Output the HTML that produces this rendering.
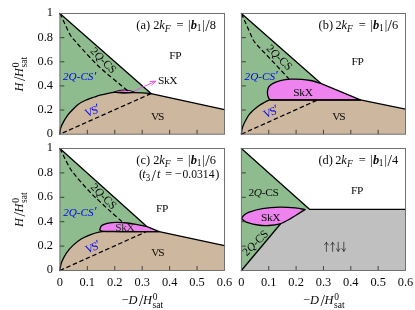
<!DOCTYPE html><html><head><meta charset="utf-8"><style>
html,body{margin:0;padding:0;background:#fff;}body{width:415px;height:310px;overflow:hidden;font-family:"Liberation Serif",serif;}
svg{display:block;position:absolute;left:0;top:0;will-change:transform}
.fr{fill:none;stroke:#6a6a6a;stroke-width:0.95}.tk{stroke:#2a2a2a;stroke-width:0.85}.ln{stroke:#000;stroke-width:1.3;stroke-linejoin:round;stroke-linecap:round}.ln2{stroke:#000;stroke-width:1.3;stroke-linejoin:round}path.ln:not([fill]){fill:none}.ds{fill:none;stroke:#000;stroke-width:1.25;stroke-dasharray:4.5 2.6}
text{font-family:"Liberation Serif",serif;fill:#0a0a0a}.t{font-size:12.4px}.l{font-size:11.4px;letter-spacing:-0.35px}.r{font-size:11.4px;letter-spacing:-0.1px}.b{fill:#0000f0}.i{font-style:italic}.bi{font-style:italic;font-weight:bold}.s{font-size:9.5px}
</style></head><body>
<svg width="415" height="310" viewBox="0 0 415 310">
<rect width="415" height="310" fill="#fff"/>
<polygon points="59.90,13.50 151.00,93.60 59.90,134.20" fill="#8fbc8f"/><path d="M59.90 134.20 C60.02 133.20 59.98 130.30 60.60 128.20 C61.22 126.10 62.43 123.75 63.60 121.60 C64.77 119.45 66.32 117.07 67.60 115.30 C68.88 113.53 69.45 112.88 71.30 111.00 C73.15 109.12 76.15 105.87 78.70 104.00 C81.25 102.13 83.97 100.97 86.60 99.80 C89.23 98.63 92.27 97.77 94.50 97.00 C96.73 96.23 97.75 95.82 100.00 95.20 C102.25 94.58 105.67 93.77 108.00 93.30 C110.33 92.83 111.17 92.52 114.00 92.40 C116.83 92.28 121.67 92.57 125.00 92.60 C128.33 92.63 131.05 92.55 134.00 92.60 C136.95 92.65 139.87 92.73 142.70 92.90 C145.53 93.07 149.62 93.48 151.00 93.60 L224.50 109.60 L224.50 134.20 Z" fill="#cdb79e"/><path d="M113.5 92.2 Q124 87.6 135 92.3 Q124 94.2 113.5 92.2Z" fill="#ee82ee" stroke="#000" stroke-width="0.9"/><path d="M59.90 134.20 C60.02 133.20 59.98 130.30 60.60 128.20 C61.22 126.10 62.43 123.75 63.60 121.60 C64.77 119.45 66.32 117.07 67.60 115.30 C68.88 113.53 69.45 112.88 71.30 111.00 C73.15 109.12 76.15 105.87 78.70 104.00 C81.25 102.13 83.97 100.97 86.60 99.80 C89.23 98.63 92.27 97.77 94.50 97.00 C96.73 96.23 97.75 95.82 100.00 95.20 C102.25 94.58 105.67 93.77 108.00 93.30 C110.33 92.83 111.17 92.52 114.00 92.40 C116.83 92.28 121.67 92.57 125.00 92.60 C128.33 92.63 131.05 92.55 134.00 92.60 C136.95 92.65 139.87 92.73 142.70 92.90 C145.53 93.07 149.62 93.48 151.00 93.60 L224.50 109.60 " class="ln"/><path d="M59.90 13.50 L151.00 93.60 " class="ln"/><path d="M59.90 13.50 C60.77 15.32 63.35 20.77 65.10 24.40 C66.85 28.03 68.67 32.45 70.40 35.30 C72.13 38.15 73.57 39.25 75.50 41.50 C77.43 43.75 79.42 45.97 82.00 48.80 C84.58 51.63 88.00 55.37 91.00 58.50 C94.00 61.63 96.83 64.65 100.00 67.60 C103.17 70.55 106.67 73.40 110.00 76.20 C113.33 79.00 117.03 81.97 120.00 84.40 C122.97 86.83 126.50 89.73 127.80 90.80 " class="ds"/><path d="M151.00 93.60 L59.90 134.20 " class="ds"/><path d="M134 91 L155.6 81.2 M149.5 81.6 L155.9 81.1 L151.3 85.5" stroke="#f545f5" stroke-width="0.9" fill="none"/>
<polygon points="241.40,13.50 320.70,83.30 300.00,100.00 241.40,134.20" fill="#8fbc8f"/><path d="M241.40 134.20 C241.48 133.47 241.62 131.20 241.90 129.80 C242.18 128.40 242.55 127.22 243.10 125.80 C243.65 124.38 244.10 123.30 245.20 121.30 C246.30 119.30 247.53 116.32 249.70 113.80 C251.87 111.28 255.70 108.13 258.20 106.20 C260.70 104.27 262.87 103.23 264.70 102.20 C266.53 101.17 268.45 100.37 269.20 100.00 L360.40 99.90 L405.50 109.20 L405.50 134.20 Z" fill="#cdb79e"/><path d="M267.40 92.30 C267.60 91.43 267.67 88.58 268.60 87.10 C269.53 85.62 271.03 84.48 273.00 83.40 C274.97 82.32 277.42 81.30 280.40 80.60 C283.38 79.90 287.32 79.42 290.90 79.20 C294.48 78.98 298.62 79.08 301.90 79.30 C305.18 79.52 307.47 79.83 310.60 80.50 C313.73 81.17 319.02 82.83 320.70 83.30 L360.40 99.90 L272.00 99.90 C272.00 99.80 270.27 99.95 269.50 99.30 C268.73 98.65 268.25 97.17 267.90 96.00 C267.55 94.83 267.48 92.92 267.40 92.30 Z" fill="#ee82ee" class="ln2"/><path d="M241.40 134.20 C241.48 133.47 241.62 131.20 241.90 129.80 C242.18 128.40 242.55 127.22 243.10 125.80 C243.65 124.38 244.10 123.30 245.20 121.30 C246.30 119.30 247.53 116.32 249.70 113.80 C251.87 111.28 255.70 108.13 258.20 106.20 C260.70 104.27 262.87 103.23 264.70 102.20 C266.53 101.17 268.45 100.37 269.20 100.00 L360.40 99.90 L405.50 109.20 " class="ln"/><path d="M241.40 13.50 L320.70 83.30 " class="ln"/><path d="M241.40 13.50 C241.88 14.58 243.30 17.75 244.30 20.00 C245.30 22.25 246.37 24.67 247.40 27.00 C248.43 29.33 249.48 31.75 250.50 34.00 C251.52 36.25 252.25 38.50 253.50 40.50 C254.75 42.50 256.25 44.03 258.00 46.00 C259.75 47.97 261.67 49.85 264.00 52.30 C266.33 54.75 269.33 57.88 272.00 60.70 C274.67 63.52 277.17 66.15 280.00 69.20 C282.83 72.25 287.50 77.37 289.00 79.00 " class="ds"/><path d="M241.40 134.20 L317.50 100.00 " class="ds"/>
<polygon points="59.90,148.50 146.50,226.30 140.00,235.00 59.90,270.50" fill="#8fbc8f"/><path d="M59.90 270.50 C60.02 269.75 60.27 267.48 60.60 266.00 C60.93 264.52 60.92 263.78 61.90 261.60 C62.88 259.42 64.65 255.60 66.50 252.90 C68.35 250.20 70.50 247.75 73.00 245.40 C75.50 243.05 78.65 240.57 81.50 238.80 C84.35 237.03 87.20 235.92 90.10 234.80 C93.00 233.68 96.25 232.67 98.90 232.10 C101.55 231.53 102.35 231.48 106.00 231.40 C109.65 231.32 114.30 231.57 120.80 231.60 C127.30 231.63 138.60 231.60 145.00 231.60 C151.40 231.60 156.83 231.60 159.20 231.60 L224.50 245.60 L224.50 270.50 Z" fill="#cdb79e"/><path d="M99.60 229.80 C99.97 229.10 100.53 226.68 101.80 225.60 C103.07 224.52 104.75 223.85 107.20 223.30 C109.65 222.75 113.13 222.35 116.50 222.30 C119.87 222.25 123.75 222.58 127.40 223.00 C131.05 223.42 135.22 224.25 138.40 224.80 C141.58 225.35 145.15 226.05 146.50 226.30 L159.20 231.60 L110.00 231.60 Q101 231.6 99.60 229.80Z" fill="#ee82ee" class="ln2"/><path d="M59.90 270.50 C60.02 269.75 60.27 267.48 60.60 266.00 C60.93 264.52 60.92 263.78 61.90 261.60 C62.88 259.42 64.65 255.60 66.50 252.90 C68.35 250.20 70.50 247.75 73.00 245.40 C75.50 243.05 78.65 240.57 81.50 238.80 C84.35 237.03 87.20 235.92 90.10 234.80 C93.00 233.68 96.25 232.67 98.90 232.10 C101.55 231.53 102.35 231.48 106.00 231.40 C109.65 231.32 114.30 231.57 120.80 231.60 C127.30 231.63 138.60 231.60 145.00 231.60 C151.40 231.60 156.83 231.60 159.20 231.60 L224.50 245.60 " class="ln"/><path d="M59.90 148.50 L146.50 226.30 " class="ln"/><path d="M59.90 148.50 C60.37 149.42 61.78 152.17 62.70 154.00 C63.62 155.83 64.10 157.00 65.40 159.50 C66.70 162.00 68.73 166.22 70.50 169.00 C72.27 171.78 73.75 173.45 76.00 176.20 C78.25 178.95 81.33 182.50 84.00 185.50 C86.67 188.50 89.48 191.63 92.00 194.20 C94.52 196.77 96.10 198.10 99.10 200.90 C102.10 203.70 106.17 207.53 110.00 211.00 C113.83 214.47 120.08 219.92 122.10 221.70 " class="ds"/><path d="M59.90 270.50 L146.00 231.80 " class="ds"/>
<polygon points="241.40,148.50 309.50,209.30 280.80,223.50 241.40,270.50" fill="#8fbc8f"/><path d="M241.40 270.50 L280.80 223.50 L290.90 218.40 L299.70 212.90 L305.10 209.60 L309.50 209.30 L405.50 209.30 L405.50 270.50 Z" fill="#c0c0c0"/><path d="M241.40 270.50 L280.80 223.50 " class="ln"/><path d="M241.40 148.50 L309.50 209.30 L405.50 209.30 " class="ln"/><path d="M241.50 218.40 C241.92 217.87 242.72 216.23 244.00 215.20 C245.28 214.17 246.15 213.28 249.20 212.20 C252.25 211.12 257.18 209.55 262.30 208.70 C267.42 207.85 274.40 207.23 279.90 207.10 C285.40 206.97 291.10 207.48 295.30 207.90 C299.50 208.32 303.47 209.32 305.10 209.60 C304.20 210.15 302.07 211.43 299.70 212.90 C297.33 214.37 294.20 216.57 290.90 218.40 C287.60 220.23 283.57 222.72 279.90 223.90 C276.23 225.08 272.55 225.32 268.90 225.50 C265.25 225.68 261.65 225.53 258.00 225.00 C254.35 224.47 249.42 223.07 247.00 222.30 C244.58 221.53 244.42 221.05 243.50 220.40 C242.58 219.75 241.83 218.73 241.50 218.40 Z" fill="#ee82ee" class="ln"/>
<line x1="87.33" y1="134.20" x2="87.33" y2="129.80" class="tk"/><line x1="114.77" y1="134.20" x2="114.77" y2="129.80" class="tk"/><line x1="142.20" y1="134.20" x2="142.20" y2="129.80" class="tk"/><line x1="169.63" y1="134.20" x2="169.63" y2="129.80" class="tk"/><line x1="197.07" y1="134.20" x2="197.07" y2="129.80" class="tk"/><line x1="59.90" y1="110.06" x2="64.30" y2="110.06" class="tk"/><line x1="59.90" y1="85.92" x2="64.30" y2="85.92" class="tk"/><line x1="59.90" y1="61.78" x2="64.30" y2="61.78" class="tk"/><line x1="59.90" y1="37.64" x2="64.30" y2="37.64" class="tk"/><rect x="59.90" y="13.50" width="164.60" height="120.70" class="fr"/>
<line x1="268.75" y1="134.20" x2="268.75" y2="129.80" class="tk"/><line x1="296.10" y1="134.20" x2="296.10" y2="129.80" class="tk"/><line x1="323.45" y1="134.20" x2="323.45" y2="129.80" class="tk"/><line x1="350.80" y1="134.20" x2="350.80" y2="129.80" class="tk"/><line x1="378.15" y1="134.20" x2="378.15" y2="129.80" class="tk"/><line x1="241.40" y1="110.06" x2="245.80" y2="110.06" class="tk"/><line x1="241.40" y1="85.92" x2="245.80" y2="85.92" class="tk"/><line x1="241.40" y1="61.78" x2="245.80" y2="61.78" class="tk"/><line x1="241.40" y1="37.64" x2="245.80" y2="37.64" class="tk"/><rect x="241.40" y="13.50" width="164.10" height="120.70" class="fr"/>
<line x1="87.33" y1="270.50" x2="87.33" y2="266.10" class="tk"/><line x1="114.77" y1="270.50" x2="114.77" y2="266.10" class="tk"/><line x1="142.20" y1="270.50" x2="142.20" y2="266.10" class="tk"/><line x1="169.63" y1="270.50" x2="169.63" y2="266.10" class="tk"/><line x1="197.07" y1="270.50" x2="197.07" y2="266.10" class="tk"/><line x1="59.90" y1="246.10" x2="64.30" y2="246.10" class="tk"/><line x1="59.90" y1="221.70" x2="64.30" y2="221.70" class="tk"/><line x1="59.90" y1="197.30" x2="64.30" y2="197.30" class="tk"/><line x1="59.90" y1="172.90" x2="64.30" y2="172.90" class="tk"/><rect x="59.90" y="148.50" width="164.60" height="122.00" class="fr"/>
<line x1="268.75" y1="270.50" x2="268.75" y2="266.10" class="tk"/><line x1="296.10" y1="270.50" x2="296.10" y2="266.10" class="tk"/><line x1="323.45" y1="270.50" x2="323.45" y2="266.10" class="tk"/><line x1="350.80" y1="270.50" x2="350.80" y2="266.10" class="tk"/><line x1="378.15" y1="270.50" x2="378.15" y2="266.10" class="tk"/><line x1="241.40" y1="246.10" x2="245.80" y2="246.10" class="tk"/><line x1="241.40" y1="221.70" x2="245.80" y2="221.70" class="tk"/><line x1="241.40" y1="197.30" x2="245.80" y2="197.30" class="tk"/><line x1="241.40" y1="172.90" x2="245.80" y2="172.90" class="tk"/><rect x="241.40" y="148.50" width="164.10" height="122.00" class="fr"/>
<text x="53.0" y="137.10" text-anchor="end" class="t">0</text>
<text x="53.0" y="112.96" text-anchor="end" class="t">0.2</text>
<text x="53.0" y="88.82" text-anchor="end" class="t">0.4</text>
<text x="53.0" y="64.68" text-anchor="end" class="t">0.6</text>
<text x="53.0" y="40.54" text-anchor="end" class="t">0.8</text>
<text x="53.0" y="15.90" text-anchor="end" class="t">1</text>
<text x="53.0" y="273.40" text-anchor="end" class="t">0</text>
<text x="53.0" y="249.00" text-anchor="end" class="t">0.2</text>
<text x="53.0" y="224.60" text-anchor="end" class="t">0.4</text>
<text x="53.0" y="200.20" text-anchor="end" class="t">0.6</text>
<text x="53.0" y="175.80" text-anchor="end" class="t">0.8</text>
<text x="53.0" y="151.40" text-anchor="end" class="t">1</text>
<text x="59.90" y="285.8" text-anchor="middle" class="t">0</text>
<text x="87.33" y="285.8" text-anchor="middle" class="t">0.1</text>
<text x="114.77" y="285.8" text-anchor="middle" class="t">0.2</text>
<text x="142.20" y="285.8" text-anchor="middle" class="t">0.3</text>
<text x="169.63" y="285.8" text-anchor="middle" class="t">0.4</text>
<text x="197.07" y="285.8" text-anchor="middle" class="t">0.5</text>
<text x="224.50" y="285.8" text-anchor="middle" class="t">0.6</text>
<text x="241.40" y="285.8" text-anchor="middle" class="t">0</text>
<text x="268.75" y="285.8" text-anchor="middle" class="t">0.1</text>
<text x="296.10" y="285.8" text-anchor="middle" class="t">0.2</text>
<text x="323.45" y="285.8" text-anchor="middle" class="t">0.3</text>
<text x="350.80" y="285.8" text-anchor="middle" class="t">0.4</text>
<text x="378.15" y="285.8" text-anchor="middle" class="t">0.5</text>
<text x="405.50" y="285.8" text-anchor="middle" class="t">0.6</text>
<g transform="translate(136.30 28.60)" class="t"><text x="0" y="0">(a)</text><text x="16.84" y="0">2</text><text x="22.9" y="0" class="i">k</text><text x="28.5" y="2.9" class="i s">F</text><text x="40.26" y="0">=</text><text x="51.81" y="0">|</text><text x="54.49" y="0" class="bi">b</text><text x="60.35" y="2.5" class="s">1</text><text x="66.05" y="0">|</text><text x="69.0" y="2.3" style="font-size:16px">/</text><text x="73.52" y="0">8</text></g>
<g transform="translate(318.60 28.60)" class="t"><text x="0" y="0">(b)</text><text x="16.84" y="0">2</text><text x="22.9" y="0" class="i">k</text><text x="28.5" y="2.9" class="i s">F</text><text x="40.26" y="0">=</text><text x="51.81" y="0">|</text><text x="54.49" y="0" class="bi">b</text><text x="60.35" y="2.5" class="s">1</text><text x="66.05" y="0">|</text><text x="69.0" y="2.3" style="font-size:16px">/</text><text x="73.52" y="0">6</text></g>
<g transform="translate(136.30 163.70)" class="t"><text x="0" y="0">(c)</text><text x="16.84" y="0">2</text><text x="22.9" y="0" class="i">k</text><text x="28.5" y="2.9" class="i s">F</text><text x="40.26" y="0">=</text><text x="51.81" y="0">|</text><text x="54.49" y="0" class="bi">b</text><text x="60.35" y="2.5" class="s">1</text><text x="66.05" y="0">|</text><text x="69.0" y="2.3" style="font-size:16px">/</text><text x="73.52" y="0">6</text></g>
<g transform="translate(318.40 163.80)" class="t"><text x="0" y="0">(d)</text><text x="16.84" y="0">2</text><text x="22.9" y="0" class="i">k</text><text x="28.5" y="2.9" class="i s">F</text><text x="40.26" y="0">=</text><text x="51.81" y="0">|</text><text x="54.49" y="0" class="bi">b</text><text x="60.35" y="2.5" class="s">1</text><text x="66.05" y="0">|</text><text x="69.0" y="2.3" style="font-size:16px">/</text><text x="73.52" y="0">4</text></g>
<g class="t"><text x="139.1" y="178.4">(</text><text x="142.3" y="178.4" class="i">t</text><text x="145.4" y="180.9" class="s">3</text><text x="151.6" y="180.7" style="font-size:16px">/</text><text x="156.9" y="178.4" class="i">t</text><text x="165.15" y="178.4">=</text><text x="174.45" y="178.4">−</text><text x="182.5" y="178.4" textLength="32" lengthAdjust="spacingAndGlyphs">0.0314</text><text x="215.2" y="178.4">)</text></g>
<text x="169.30" y="58.80" class="l" >FP</text>
<text x="351.50" y="64.80" class="l" >FP</text>
<text x="156.10" y="212.20" class="l" >FP</text>
<text x="351.00" y="194.30" class="l" >FP</text>
<text x="151.00" y="119.90" class="l" >V<tspan dx="-0.9">S</tspan></text>
<text x="332.20" y="120.40" class="l" >V<tspan dx="-0.9">S</tspan></text>
<text x="151.20" y="256.00" class="l" >V<tspan dx="-0.9">S</tspan></text>
<text x="158.00" y="84.30" class="l" >SkX</text>
<text x="293.30" y="96.10" class="l" >SkX</text>
<text x="115.20" y="231.00" class="l" style="fill:#2a2a2a">SkX</text>
<text x="261.00" y="221.00" class="l" >SkX</text>
<text x="248.50" y="195.90" class="l" >2<tspan class="i">Q</tspan>-CS</text>
<text x="63.00" y="80.20" class="l b i" ><tspan style="font-size:11.2px;letter-spacing:0">2Q-CS</tspan><tspan style="font-size:12.5px" dy="-0.6">′</tspan></text>
<text x="244.60" y="80.00" class="l b i" ><tspan style="font-size:11.2px;letter-spacing:0">2Q-CS</tspan><tspan style="font-size:12.5px" dy="-0.6">′</tspan></text>
<text x="63.20" y="216.00" class="l b i" ><tspan style="font-size:11.2px;letter-spacing:0">2Q-CS</tspan><tspan style="font-size:12.5px" dy="-0.6">′</tspan></text>
<text transform="translate(100.90 62.90) rotate(45.0)" text-anchor="middle" class="r">2<tspan class="i">Q</tspan>-CS</text>
<text transform="translate(276.90 60.00) rotate(45.0)" text-anchor="middle" class="r">2<tspan class="i">Q</tspan>-CS</text>
<text transform="translate(101.10 198.80) rotate(45.0)" text-anchor="middle" class="r">2<tspan class="i">Q</tspan>-CS</text>
<text transform="translate(257.90 245.50) rotate(-45.0)" text-anchor="middle" class="r">2<tspan class="i">Q</tspan>-CS</text>
<text transform="translate(93.50 114.50) rotate(-21.0)" text-anchor="middle" class="l b">V<tspan dx="-1.1">S</tspan><tspan dx="-0.3" dy="-0.8" style="font-size:12.5px">′</tspan></text>
<text transform="translate(272.00 115.60) rotate(-21.0)" text-anchor="middle" class="l b">V<tspan dx="-1.1">S</tspan><tspan dx="-0.3" dy="-0.8" style="font-size:12.5px">′</tspan></text>
<text transform="translate(93.90 250.80) rotate(-21.0)" text-anchor="middle" class="l b">V<tspan dx="-1.1">S</tspan><tspan dx="-0.3" dy="-0.8" style="font-size:12.5px">′</tspan></text>
<g stroke="#262626" stroke-width="0.75" fill="none" stroke-linecap="round">
<path d="M326.4 251.4V242.3M324.5 244.8q1.5 -0.8 1.9 -2.5q0.4 1.7 1.9 2.5"/>
<path d="M332.6 251.4V242.3M330.7 244.8q1.5 -0.8 1.9 -2.5q0.4 1.7 1.9 2.5"/>
<path d="M338.2 242.2V251.3M336.3 248.8q1.5 0.8 1.9 2.5q0.4 -1.7 1.9 -2.5"/>
<path d="M343.8 242.2V251.3M341.9 248.8q1.5 0.8 1.9 2.5q0.4 -1.7 1.9 -2.5"/>
</g>
<text transform="translate(23 74.20) rotate(-90)" text-anchor="middle" class="t"><tspan class="i">H</tspan><tspan dx="1.5" dy="2.3" style="font-size:16px">/</tspan><tspan class="i" dx="-0.3" dy="-2.3">H</tspan><tspan class="s" dy="-4.2" dx="0.7">0</tspan><tspan class="s" dy="8.2" dx="-4.95">sat</tspan></text>
<text transform="translate(23 209.70) rotate(-90)" text-anchor="middle" class="t"><tspan class="i">H</tspan><tspan dx="1.5" dy="2.3" style="font-size:16px">/</tspan><tspan class="i" dx="-0.3" dy="-2.3">H</tspan><tspan class="s" dy="-4.2" dx="0.7">0</tspan><tspan class="s" dy="8.2" dx="-4.95">sat</tspan></text>
<text x="121.50" y="303.8" class="t">−<tspan class="i">D</tspan><tspan dx="1.5" dy="2.3" style="font-size:16px">/</tspan><tspan class="i" dx="-0.3" dy="-2.3">H</tspan><tspan class="s" dy="-4.2" dx="0.7">0</tspan><tspan class="s" dy="8.2" dx="-4.95">sat</tspan></text>
<text x="303.00" y="303.8" class="t">−<tspan class="i">D</tspan><tspan dx="1.5" dy="2.3" style="font-size:16px">/</tspan><tspan class="i" dx="-0.3" dy="-2.3">H</tspan><tspan class="s" dy="-4.2" dx="0.7">0</tspan><tspan class="s" dy="8.2" dx="-4.95">sat</tspan></text>
</svg></body></html>
